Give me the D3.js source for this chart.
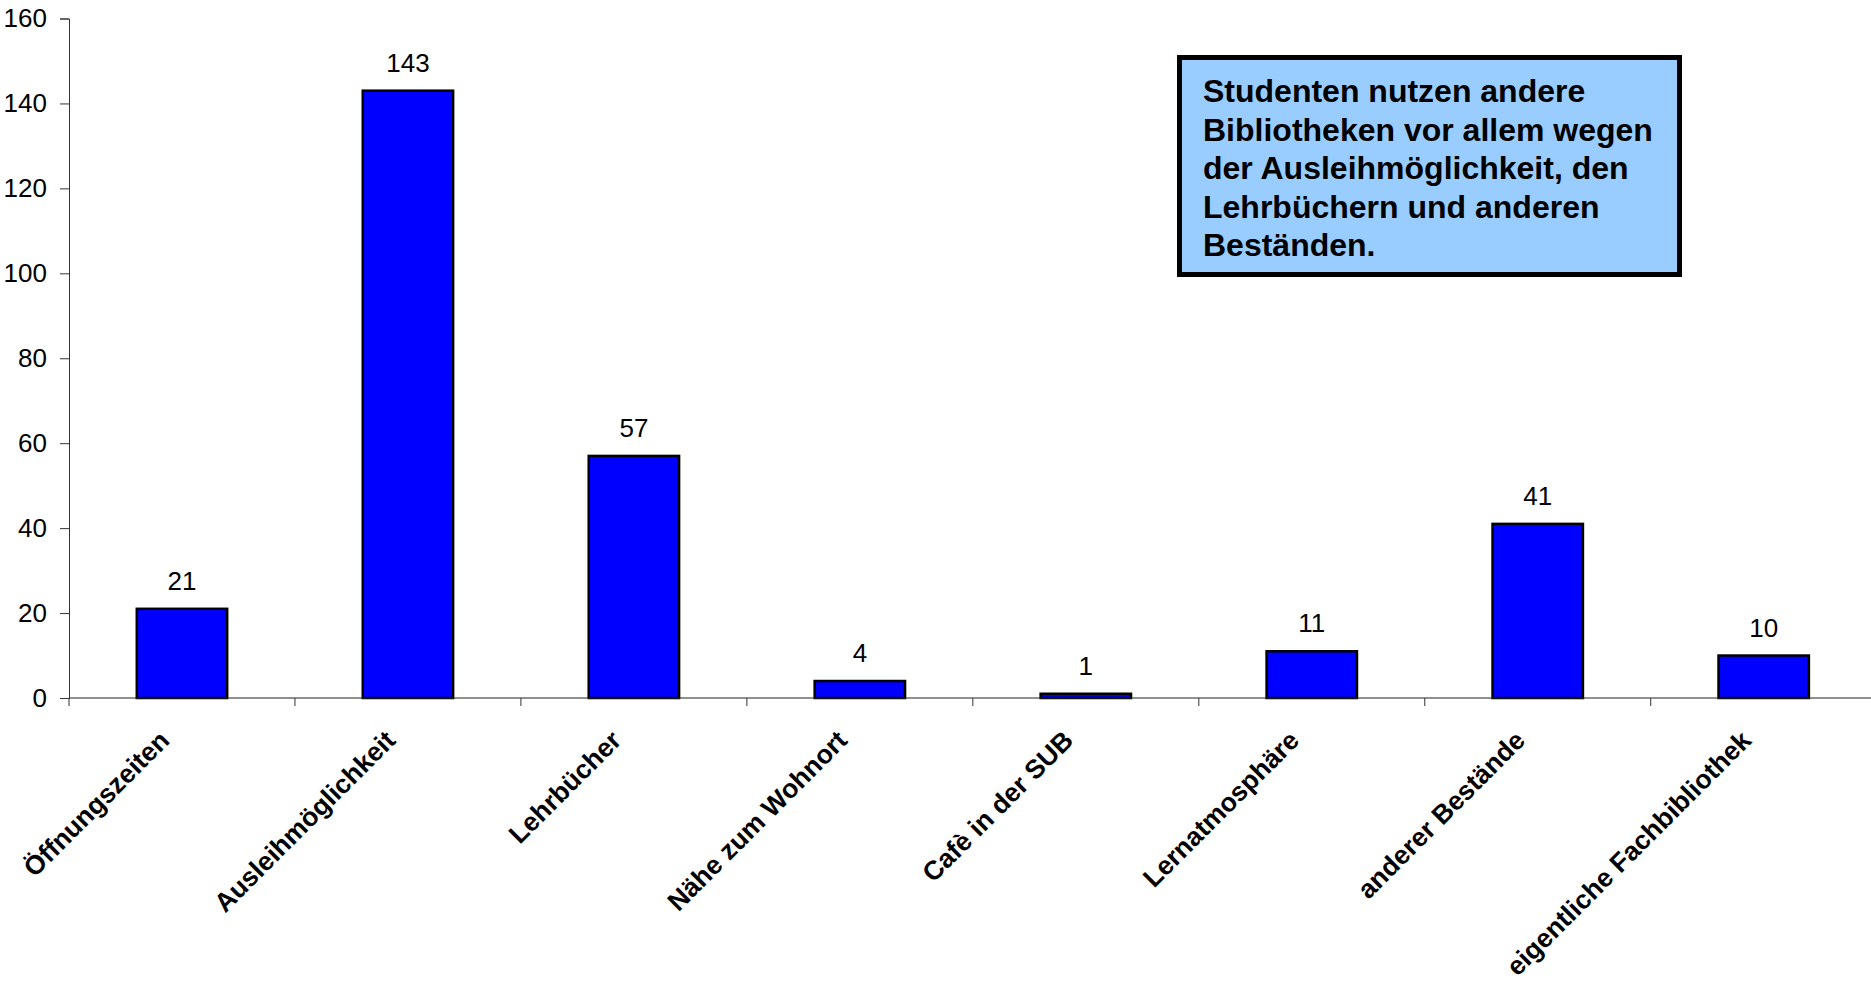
<!DOCTYPE html>
<html>
<head>
<meta charset="utf-8">
<script src="https://cdn.jsdelivr.net/npm/d3@7"></script>
<style>
  html, body { margin: 0; padding: 0; background: #fff; }
  svg { display: block; }
</style>
</head>
<body>
<svg id="chart" width="1871" height="982"></svg>
<script>
const categories = ["Öffnungszeiten", "Ausleihmöglichkeit", "Lehrbücher", "Nähe zum Wohnort", "Cafè in der SUB", "Lernatmosphäre", "anderer Bestände", "eigentliche Fachbibliothek"];
const values = [21, 143, 57, 4, 1, 11, 41, 10];
const yTicks = [0, 20, 40, 60, 80, 100, 120, 140, 160];
const noteLines = ["Studenten nutzen andere", "Bibliotheken vor allem wegen", "der Ausleihmöglichkeit, den", "Lehrbüchern und anderen", "Beständen."];

const svg = d3.select("#chart");
const font = "'Liberation Sans', Arial, Helvetica, sans-serif";
const x0 = 69, step = 225.96, y0 = 698, yTop = 18.5;

const x = d3.scaleBand().domain(categories).range([x0, x0 + step * categories.length]).paddingInner(0.6).paddingOuter(0.3);
const y = d3.scaleLinear().domain([0, 160]).range([y0, yTop]);

// Y axis
const yAxis = svg.append("g").attr("transform", `translate(${x0},0)`)
  .call(d3.axisLeft(y).tickValues(yTicks).tickSize(9).tickPadding(13).tickFormat(d3.format("d")));
yAxis.select(".domain").attr("stroke", "#333").attr("stroke-width", 1);
yAxis.selectAll(".tick line").attr("stroke", "#333");
yAxis.selectAll(".tick text").attr("font-family", font).attr("font-size", 26).attr("fill", "#000");

// bars
svg.append("g").selectAll("rect").data(values).join("rect")
  .attr("x", (d, i) => x(categories[i]))
  .attr("y", d => y(d))
  .attr("width", x.bandwidth())
  .attr("height", d => y(0) - y(d))
  .attr("fill", "#0000FF")
  .attr("stroke", "#000")
  .attr("stroke-width", 2.5);

// X axis line and ticks at category boundaries
svg.append("line").attr("x1", x0).attr("x2", 1871).attr("y1", y0).attr("y2", y0)
  .attr("stroke", "#222").attr("stroke-width", 1.2);
const bounds = d3.range(categories.length + 1).map(i => x0 + i * x.step());
svg.append("g").selectAll("line").data(bounds).join("line")
  .attr("x1", d => d).attr("x2", d => d).attr("y1", y0).attr("y2", y0 + 8)
  .attr("stroke", "#333").attr("stroke-width", 1);

// value labels
svg.append("g").selectAll("text").data(values).join("text")
  .attr("x", (d, i) => x(categories[i]) + x.bandwidth() / 2)
  .attr("y", d => y(d) - 19)
  .attr("text-anchor", "middle")
  .attr("font-family", font).attr("font-size", 26).attr("fill", "#000")
  .text(d => d);

// category labels rotated
svg.append("g").selectAll("text").data(categories).join("text")
  .attr("transform", d => `translate(${x(d) + x.bandwidth() / 2 - 11},${y0 + 44}) rotate(-45)`)
  .attr("text-anchor", "end")
  .attr("font-family", font).attr("font-size", 26.5).attr("font-weight", "bold").attr("fill", "#000")
  .text(d => d);

// annotation box
const box = svg.append("g");
box.append("rect").attr("x", 1179.5).attr("y", 57.5).attr("width", 500).attr("height", 217)
  .attr("fill", "#99CCFF").attr("stroke", "#000").attr("stroke-width", 5);
box.selectAll("text").data(noteLines).join("text")
  .attr("x", 1203).attr("y", (d, i) => 102 + i * 38.5)
  .attr("font-family", font).attr("font-size", 32).attr("font-weight", "bold").attr("fill", "#000")
  .text(d => d);
</script>
</body>
</html>
